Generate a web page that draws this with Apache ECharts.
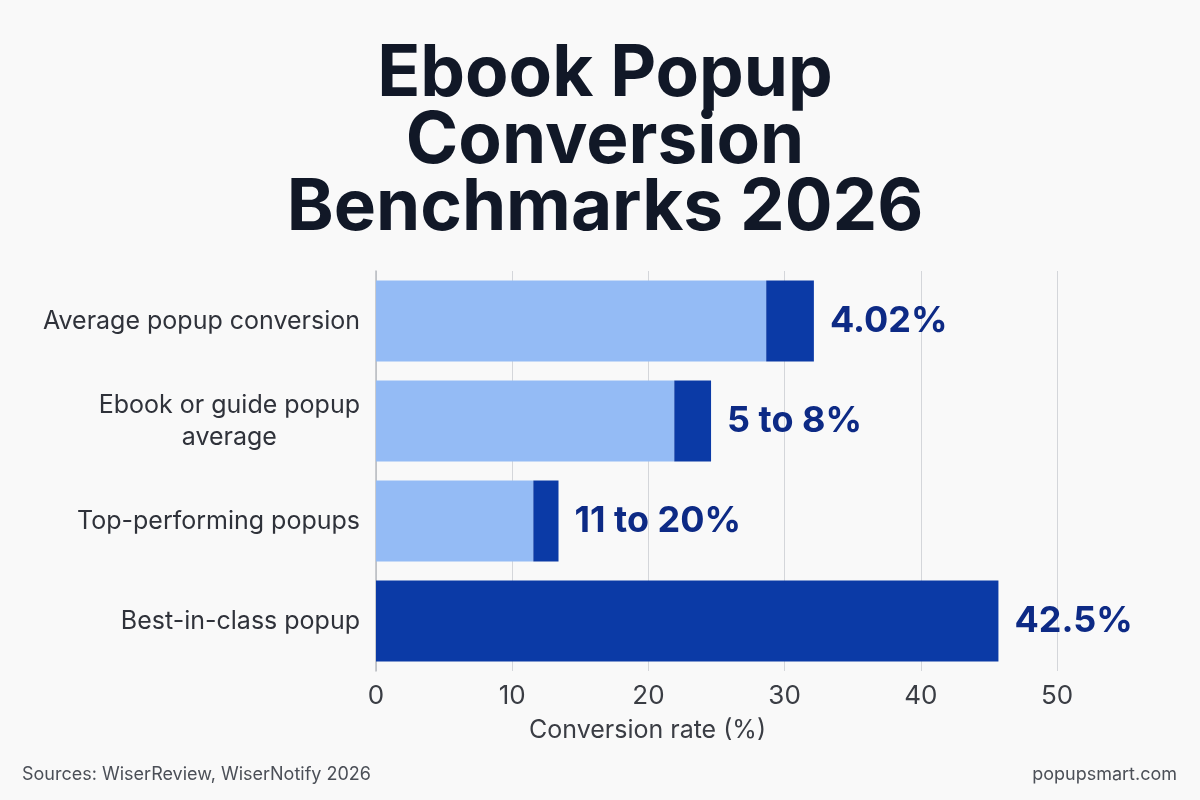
<!DOCTYPE html>
<html>
<head>
<meta charset="utf-8">
<script src="https://cdn.jsdelivr.net/npm/echarts@6/dist/echarts.min.js"></script>
<style>
  html, body { margin: 0; padding: 0; background: #f9f9f9; }
  #main { width: 1200px; height: 800px; }
</style>
</head>
<body>
<div id="main"></div>
<script>
// categories top to bottom
var categories = ['Average popup conversion', 'Ebook or guide popup\naverage', 'Top-performing popups', 'Best-in-class popup'];
// light base part and dark tip part of each bar (percent)
var baseValues = [28.65, 21.9, 11.55, 0];
var tipValues = [3.5, 2.7, 1.85, 45.7];
var valueLabels = ['4.02%', '5 to 8%', '11 to 20%', '42.5%'];
var xTicks = [0, 10, 20, 30, 40, 50];

var myChart = echarts.init(document.getElementById('main'));

myChart.setOption({
  backgroundColor: '#f9f9f9',
  animation: false,
  title: [
    {
      text: 'Ebook Popup\nConversion\nBenchmarks 2026',
      left: 600,
      top: 36,
      textAlign: 'center',
      textStyle: {
        fontFamily: 'Inter',
        fontSize: 71,
        fontWeight: 'bold',
        lineHeight: 67,
        color: '#111827'
      }
    },
    {
      text: 'Sources: WiserReview, WiserNotify 2026',
      left: 17,
      top: 761,
      textStyle: { fontFamily: 'Inter', fontSize: 18, fontWeight: 'normal', color: '#4b4f57' }
    },
    {
      text: 'popupsmart.com',
      right: 18,
      top: 761,
      textStyle: { fontFamily: 'Inter', fontSize: 18, fontWeight: 'normal', color: '#4b4f57' }
    }
  ],
  grid: { left: 376, right: 143, top: 271, height: 400, containLabel: false },
  xAxis: {
    type: 'value',
    min: 0,
    max: 50,
    interval: 10,
    name: 'Conversion rate (%)',
    nameLocation: 'middle',
    nameGap: 47,
    nameTextStyle: { fontFamily: 'Inter', fontSize: 25, color: '#3a3d44', padding: [0, 138, 0, 0] },
    axisLine: { show: false },
    axisTick: { show: false },
    axisLabel: {
      margin: 12,
      fontFamily: 'Inter',
      fontSize: 26,
      color: '#3a3d44',
      formatter: function (v) { return xTicks.indexOf(v) >= 0 ? String(v) : ''; }
    },
    splitLine: { show: true, lineStyle: { color: '#d4d6da', width: 1 } }
  },
  yAxis: {
    type: 'category',
    data: categories,
    inverse: true,
    axisLine: { show: true, lineStyle: { color: '#b8bbc0', width: 1.5 } },
    axisTick: { show: false },
    axisLabel: {
      margin: 16,
      align: 'right',
      // wrapped lines are centred under each other, the block stays right-aligned
      formatter: function (v) {
        return v.split('\n').map(function (s) { return '{c|' + s + '}'; }).join('\n');
      },
      rich: {
        c: {
          fontFamily: 'Inter',
          fontSize: 25,
          lineHeight: 32,
          color: '#2f323a',
          align: 'center'
        }
      }
    }
  },
  series: [
    {
      type: 'bar',
      stack: 'total',
      data: baseValues,
      barWidth: 81,
      itemStyle: { color: '#94bbf5' },
      silent: true
    },
    {
      type: 'bar',
      stack: 'total',
      data: tipValues,
      barWidth: 81,
      itemStyle: { color: '#0b3aa6' },
      silent: true,
      label: {
        show: true,
        position: 'right',
        distance: 16,
        fontFamily: 'Inter',
        fontSize: 36,
        fontWeight: 'bold',
        color: '#0d2a85',
        formatter: function (p) { return valueLabels[p.dataIndex]; }
      }
    }
  ]
});
</script>
</body>
</html>
